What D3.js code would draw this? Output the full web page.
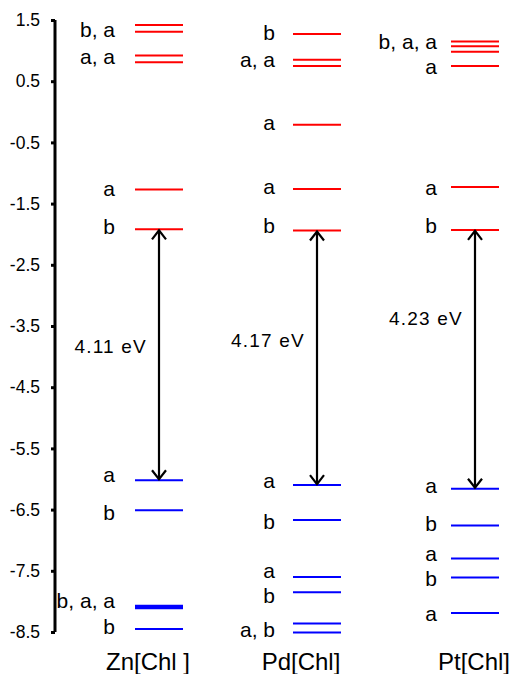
<!DOCTYPE html>
<html>
<head>
<meta charset="utf-8">
<script src="https://cdn.jsdelivr.net/npm/d3@7"></script>
<style>
  body { margin: 0; background: #fff; }
  svg { font-family: "Liberation Sans", Arial, sans-serif; }
</style>
</head>
<body>
<div class="canvas"></div>
<script>
// complexes (columns)
const complexes = ["Zn[Chl ]", "Pd[Chl]", "Pt[Chl]"];

// unoccupied orbitals (red), eV
const lumoZn = [1.42, 1.31, 0.92, 0.81, -1.27, -1.92];
const lumoPd = [1.27, 0.85, 0.75, -0.21, -1.26, -1.94];
const lumoPt = [1.15, 1.07, 0.98, 0.75, -1.23, -1.93];

// occupied orbitals (blue), eV
const homoZn = [-6.02, -6.51, -8.07, -8.09, -8.11, -8.45];
const homoPd = [-6.10, -6.67, -7.60, -7.85, -8.36, -8.51];
const homoPt = [-6.16, -6.76, -7.30, -7.61, -8.19];

// symmetry labels [text, energy]
const labelsZn = [["b, a", 1.32], ["a, a", 0.88], ["a", -1.27], ["b", -1.89],
                  ["a", -5.95], ["b", -6.57], ["b, a, a", -8.0], ["b", -8.43]];
const labelsPd = [["b", 1.27], ["a, a", 0.83], ["a", -0.2], ["a", -1.24], ["b", -1.87],
                  ["a", -6.05], ["b", -6.71], ["a", -7.51], ["b", -7.92], ["a, b", -8.48]];
const labelsPt = [["b, a, a", 1.13], ["a", 0.72], ["a", -1.25], ["b", -1.88],
                  ["a", -6.13], ["b", -6.75], ["a", -7.24], ["b", -7.65], ["a", -8.22]];

// HOMO-LUMO gaps
const gapText = ["4.11 eV", "4.17 eV", "4.23 eV"];
const gapTextY = [-3.84, -3.73, -3.37];

const yTicks = [1.5, 0.5, -0.5, -1.5, -2.5, -3.5, -4.5, -5.5, -6.5, -7.5, -8.5];

const width = 514, height = 674;

const svg = d3.select(".canvas").append("svg")
    .attr("width", width)
    .attr("height", height);

const y = d3.scaleLinear()
    .domain([1.5, -8.5])
    .range([20, 632]);

const x = d3.scalePoint()
    .domain(complexes)
    .range([159, 475]);

const half = 24;

// y axis
const yAxis = d3.axisLeft(y)
    .tickValues(yTicks)
    .tickFormat(d => d.toFixed(1))
    .tickSize(4)
    .tickPadding(11);

const yAxisGroup = svg.append("g")
    .attr("transform", "translate(55, 0)")
    .call(yAxis);

yAxisGroup.select(".domain")
    .attr("d", `M0,${y(1.5)}V${y(-8.5)}`)
    .attr("stroke", "#000")
    .attr("stroke-width", 3);

yAxisGroup.selectAll(".tick line")
    .attr("stroke-width", 3);

yAxisGroup.selectAll(".tick text")
    .attr("font-size", 17.5)
    .attr("fill", "#000");

// levels
const columns = [
  { name: complexes[0], lumo: lumoZn, homo: homoZn, labels: labelsZn },
  { name: complexes[1], lumo: lumoPd, homo: homoPd, labels: labelsPd },
  { name: complexes[2], lumo: lumoPt, homo: homoPt, labels: labelsPt }
];

const labelGap = [20, 18, 14];
const nameShift = [-11, -16, -1];

columns.forEach(function(col, i) {
  const cx = x(col.name);
  const g = svg.append("g");

  g.selectAll(".lumo")
    .data(col.lumo)
    .enter().append("line")
    .attr("class", "lumo")
    .attr("x1", cx - half).attr("x2", cx + half)
    .attr("y1", d => y(d)).attr("y2", d => y(d))
    .attr("stroke", "#ff0000")
    .attr("stroke-width", 2);

  g.selectAll(".homo")
    .data(col.homo)
    .enter().append("line")
    .attr("class", "homo")
    .attr("x1", cx - half).attr("x2", cx + half)
    .attr("y1", d => y(d)).attr("y2", d => y(d))
    .attr("stroke", "#0000ff")
    .attr("stroke-width", 2);

  g.selectAll(".lab")
    .data(col.labels)
    .enter().append("text")
    .attr("class", "lab")
    .attr("x", cx - half - labelGap[i])
    .attr("y", d => y(d[1]))
    .attr("dy", "0.3em")
    .attr("text-anchor", "end")
    .attr("font-size", 21)
    .text(d => d[0]);

  // gap arrow between lowest LUMO and highest HOMO
  const top = y(d3.min(col.lumo)), bot = y(d3.max(col.homo));
  const ag = svg.append("g")
    .attr("stroke", "#000")
    .attr("stroke-width", 2.2)
    .attr("fill", "none");
  ag.append("line")
    .attr("x1", cx).attr("x2", cx)
    .attr("y1", top + 1).attr("y2", bot - 1);
  ag.append("path")
    .attr("d", `M${cx - 7},${top + 10}L${cx},${top + 1}L${cx + 7},${top + 10}`);
  ag.append("path")
    .attr("d", `M${cx - 7},${bot - 10}L${cx},${bot - 1}L${cx + 7},${bot - 10}`);

  svg.append("text")
    .attr("x", cx - 12)
    .attr("y", y(gapTextY[i]))
    .attr("dy", "0.35em")
    .attr("text-anchor", "end")
    .attr("font-size", 19)
    .attr("letter-spacing", 1.2)
    .text(gapText[i]);

  svg.append("text")
    .attr("x", cx + nameShift[i])
    .attr("y", 670)
    .attr("text-anchor", "middle")
    .attr("font-size", 24)
    .text(col.name);
});
</script>
</body>
</html>
